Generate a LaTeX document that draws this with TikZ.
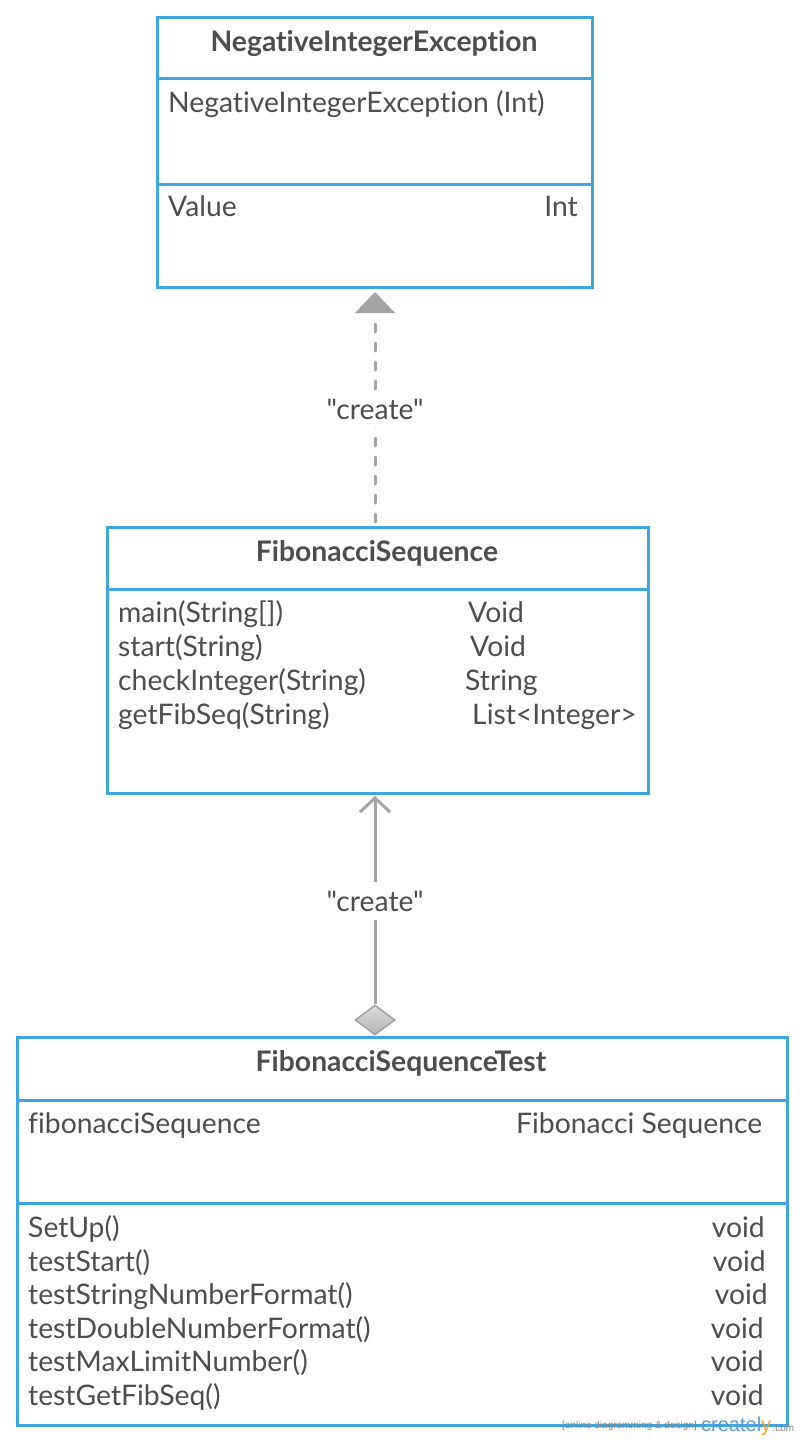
\documentclass[tikz,border=0pt]{standalone}
\usepackage{fontspec}
\newfontfamily\latof{Lato}[Ligatures={NoCommon}]
\newfontfamily\wmfont{Liberation Sans}
\usetikzlibrary{arrows.meta,shapes.geometric}
\definecolor{boxblue}{HTML}{3DA6E0}
\definecolor{txt}{HTML}{4D4D4D}
\definecolor{conn}{HTML}{A3A3A3}
\definecolor{wmblue}{HTML}{5B9BD5}
\definecolor{wmorange}{HTML}{F5A623}
\tikzset{
  umlbox/.style={draw=boxblue,line width=3pt,fill=white},
  divider/.style={draw=boxblue,line width=3pt},
  tl/.style={anchor=base west,inner sep=0pt,yshift=-1.5pt,text=txt,font=\latof\fontsize{28.3}{31}\selectfont},
  tr/.style={anchor=base east,inner sep=0pt,yshift=-1.5pt,text=txt,font=\latof\fontsize{28.3}{31}\selectfont},
  ttl/.style={anchor=base,inner sep=0pt,yshift=-1pt,text=txt,font=\latof\fontsize{28.3}{31}\selectfont\bfseries},
  lbl/.style={fill=white,inner xsep=3pt,inner ysep=9pt,text=txt,font=\latof\fontsize{28.3}{31}\selectfont},
  conline/.style={draw=conn,line width=3pt},
}
\begin{document}
\begin{tikzpicture}[x=1pt,y=-1pt]
\useasboundingbox (0,0) rectangle (800,1440);
% Box 1
\draw[umlbox] (157,17) rectangle (592,287);
\draw[divider] (157,78) -- (592,78);
\draw[divider] (157,184) -- (592,184);
\node[ttl] (t1) at (374,50) {NegativeIntegerException};
\node[tl] (a1) at (168,111) {NegativeIntegerException (Int)};
\node[tl] (a2) at (168,215) {Value};
\node[tr] (a3) at (578,215) {Int};
% Box 2
\draw[umlbox] (107,527) rectangle (648,793);
\draw[divider] (107,589) -- (648,589);
\node[ttl] (t2) at (377,560) {FibonacciSequence};
\node[tl] (b1) at (118,621) {main(String[])};
\node[tl] (b2) at (118,655) {start(String)};
\node[tl] (b3) at (118,689) {checkInteger(String)};
\node[tl] (b4) at (118,723) {getFibSeq(String)};
\node[tl] (c1) at (468,621) {Void};
\node[tl] (c2) at (470,655) {Void};
\node[tl] (c3) at (465,689) {String};
\node[tl] (c4) at (472,723) {List<Integer>};
% Box 3
\draw[umlbox] (17,1037) rectangle (787,1425);
\draw[divider] (17,1100) -- (787,1100);
\draw[divider] (17,1203) -- (787,1203);
\node[ttl] (t3) at (401,1070) {FibonacciSequenceTest};
\node[tl] (d1) at (28,1132) {fibonacciSequence};
\node[tl] (d2) at (516,1132) {Fibonacci Sequence};
\node[tl] (e1) at (28,1236) {SetUp()};
\node[tl] (e2) at (28,1270) {testStart()};
\node[tl] (e3) at (28,1303) {testStringNumberFormat()};
\node[tl] (e4) at (28,1337) {testDoubleNumberFormat()};
\node[tl] (e5) at (28,1370) {testMaxLimitNumber()};
\node[tl] (e6) at (28,1404) {testGetFibSeq()};
\node[tr] (f1) at (765,1236) {void};
\node[tr] (f2) at (766,1270) {void};
\node[tr] (f3) at (768,1303) {void};
\node[tr] (f4) at (764,1337) {void};
\node[tr] (f5) at (764,1370) {void};
\node[tr] (f6) at (764,1404) {void};
% anchors for connectors
\coordinate (top1) at (375,292);
\coordinate (bot2) at (375,522);
\coordinate (top2) at (375,796);
% Connector 1: dashed with filled triangle
\draw[conline,line cap=round,dash pattern=on 8pt off 11pt] (bot2) -- (375,316);
\fill[conn] (top1) -- (395,313) -- (355,313) -- cycle;
\node[lbl] (l1) at (375,409) {"create"};
% Connector 2: diamond + open arrow
\node[diamond,draw=conn,line width=1.5pt,top color=conn!40,bottom color=conn!80,minimum width=40pt,minimum height=30pt,inner sep=0pt,aspect=1.33] (dia) at (375,1020) {};
\draw[conline,-{Straight Barb[length=14pt,width=30pt,line width=3pt]}] (dia.north) -- (top2);
\node[lbl] (l2) at (375,901) {"create"};
% Watermark
\node[anchor=base west,inner sep=0pt,text=gray,font=\wmfont\fontsize{10}{11}\selectfont] (w1) at (562,1428) {[online diagramming \& design]};
\node[anchor=base west,inner sep=0pt,font=\wmfont\fontsize{20}{22}\selectfont] (w2) at (701,1431) {\textcolor{wmblue}{createl}\textcolor{wmorange}{y}};
\node[anchor=base west,inner sep=0pt,text=gray,font=\wmfont\fontsize{10}{11}\selectfont] (w3) at ([xshift=1pt]w2.base east) {.com};
\end{tikzpicture}
\end{document}
